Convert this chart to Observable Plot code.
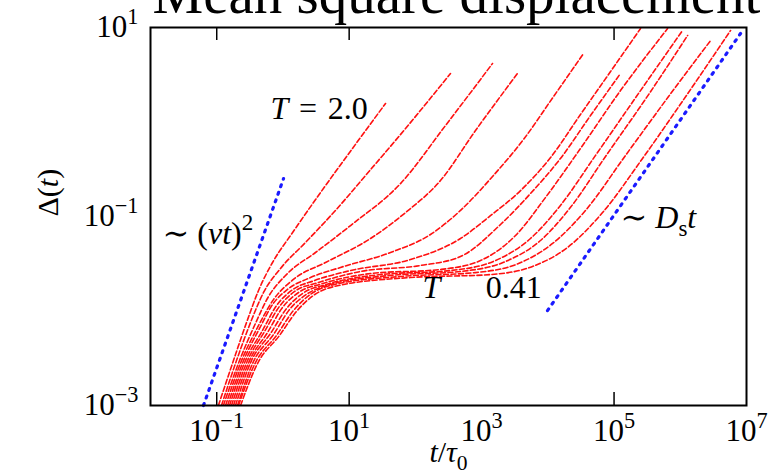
<!DOCTYPE html>
<html><head><meta charset="utf-8">
<script src="https://cdn.jsdelivr.net/npm/d3@7"></script>
<script src="https://cdn.jsdelivr.net/npm/@observablehq/plot@0.6"></script>
<style>body{margin:0;background:#fff} svg{display:block}</style>
</head><body><div id="chart"></div>
<script>
// Mean square displacement curves, T = 2.0 (first) ... T = 0.41 (last)
const seriesNames = ["T1","T2","T3","T4","T5","T6","T7","T8","T9","T10","T11","T12"];
const t1 = [0.106, 0.179, 0.282, 0.428, 0.696, 1.40, 3.69, 11.2, 35.4];
const d1 = [0.001, 0.00299, 0.00755, 0.0165, 0.0326, 0.0677, 0.179, 0.524, 1.57];
const t2 = [0.118, 0.199, 0.324, 0.509, 0.919, 2.19, 6.22, 17.7, 71.0, 339];
const d2 = [0.001, 0.00299, 0.00755, 0.0157, 0.0282, 0.0531, 0.116, 0.272, 0.853, 3.26];
const t3 = [0.126, 0.221, 0.372, 0.605, 1.17, 3.10, 10.5, 59.6, 285, 1460];
const d3v = [0.001, 0.00299, 0.00702, 0.0142, 0.0249, 0.0416, 0.0803, 0.223, 0.918, 4.16];
const t4 = [0.136, 0.237, 0.413, 0.720, 1.44, 4.40, 21.0, 71.0, 239, 809, 3480];
const d4 = [0.001, 0.00299, 0.00669, 0.0132, 0.0216, 0.0326, 0.0585, 0.110, 0.240, 0.813, 3.26];
const t5 = [0.146, 0.254, 0.443, 0.696, 1.17, 2.61, 7.40, 42.1, 169, 480, 1510, 4290, 12200, 34600];
const d5 = [0.001, 0.00299, 0.00653, 0.0117, 0.0169, 0.0226, 0.0289, 0.0416, 0.0645, 0.116, 0.272, 0.653, 1.86, 5.31];
const t6 = [0.156, 0.272, 0.491, 0.799, 1.35, 3.00, 10.5, 84.4, 480, 1360, 3870, 11000, 31100, 88500, 251000];
const d6 = [0.001, 0.00299, 0.00622, 0.0114, 0.0165, 0.0210, 0.0268, 0.0350, 0.0585, 0.102, 0.188, 0.421, 1.20, 3.42, 9.75];
const t7 = [0.167, 0.292, 0.527, 0.887, 1.50, 3.44, 14.8, 119, 480, 1930, 5470, 15500, 44100, 125000];
const d7 = [0.001, 0.00299, 0.00607, 0.0112, 0.0161, 0.0200, 0.0262, 0.0303, 0.0377, 0.0823, 0.175, 0.411, 1.17, 3.26];
const t8 = [0.179, 0.313, 0.585, 0.985, 1.72, 3.96, 21.0, 239, 962, 3250, 9220, 31100, 125000, 643000];
const d8 = [0.001, 0.00299, 0.00592, 0.0109, 0.0157, 0.0195, 0.0249, 0.0275, 0.0342, 0.0629, 0.159, 0.524, 2.15, 9.75];
const t9 = [0.192, 0.335, 0.649, 1.13, 1.97, 4.55, 29.7, 339, 1620, 5470, 15500, 52500, 251000, 1.08e6];
const d9 = [0.001, 0.00299, 0.00578, 0.0106, 0.0153, 0.0191, 0.0243, 0.0268, 0.0342, 0.0585, 0.131, 0.443, 2.15, 9.29];
const t10 = [0.206, 0.359, 0.720, 1.26, 2.27, 5.23, 42.1, 480, 2300, 7740, 22000, 74300, 332000, 1.29e6];
const d10 = [0.001, 0.00292, 0.00564, 0.0104, 0.0150, 0.0191, 0.0238, 0.0262, 0.0334, 0.0557, 0.125, 0.432, 1.95, 8.23];
const t11 = [0.213, 0.385, 0.799, 1.44, 2.61, 6.00, 59.6, 809, 3610, 11800, 37100, 149000, 665000, 2.87e6];
const d11 = [0.001, 0.00285, 0.00551, 0.0101, 0.0150, 0.0191, 0.0232, 0.0255, 0.0318, 0.0518, 0.116, 0.443, 1.86, 7.28];
const t12 = [0.229, 0.413, 0.887, 1.60, 2.89, 6.90, 84.4, 1360, 5870, 19800, 67000, 269000, 1.24e6, 5.74e6];
const d12 = [0.001, 0.00278, 0.00551, 0.00988, 0.0146, 0.0186, 0.0226, 0.0243, 0.0296, 0.0470, 0.110, 0.411, 1.91, 9.29];

// guide lines
const ballisticT = [0.0631, 1.02];
const ballisticD = [0.001, 0.252];
const diffusiveT = [9890, 8.13e6];
const diffusiveD = [0.0101, 8.64];

// axes
const xTickMarks = [1e-1, 1e1, 1e5];
const xTickLabels = [1e-1, 1e1, 1e3, 1e5, 1e7];
const yTickLabels = [1e-3, 1e-1, 1e1];

// annotations: [text, t, msd]
const notes = [
  ["*T*\u2004=\u20042.0", 0.649, 1.39],
  ["∼ (*vt*)^{2}", 0.0152, 0.0661],
  ["*T*", 128, 0.0177],
  ["0.41", 1150, 0.0177],
  ["∼ *D*_{s}*t*", 125000, 0.0976]
];
const titleText = "Mean square displacement";
const xLabel = "*t*/*τ*_{0}";
const yLabel = "Δ(*t*)";

const tArr = [t1,t2,t3,t4,t5,t6,t7,t8,t9,t10,t11,t12];
const dArr = [d1,d2,d3v,d4,d5,d6,d7,d8,d9,d10,d11,d12];
const rows = seriesNames.flatMap((name, i) => tArr[i].map((t, j) => ({series: name, t, msd: dArr[i][j]})));
const ballRows = ballisticT.map((t, i) => ({t, msd: ballisticD[i]}));
const diffRows = diffusiveT.map((t, i) => ({t, msd: diffusiveD[i]}));
const noteRows = notes.map(([text, t, msd]) => ({text, t, msd}));

const expFmt = d => {
  const e = Math.round(Math.log10(d));
  return "10^{" + (e < 0 ? "−" + (-e) : String(e)) + "}";
};

const plot = Plot.plot({
  width: 772, height: 476,
  marginTop: 27, marginRight: 26, marginBottom: 71, marginLeft: 150,
  style: {fontFamily: "'Liberation Serif', 'DejaVu Serif', serif", background: "white", color: "black"},
  x: {type: "log", domain: [1e-2, 1e7]},
  y: {type: "log", domain: [1e-3, 1e1]},
  marks: [
    Plot.line(rows, {x: "t", y: "msd", z: "series", stroke: "#ff1010", strokeWidth: 1.6, strokeDasharray: "5,2.5", curve: "monotone-x", clip: true}),
    Plot.line(ballRows, {x: "t", y: "msd", stroke: "#1a1aff", strokeWidth: 3.2, strokeDasharray: "2,6", strokeLinecap: "round"}),
    Plot.line(diffRows, {x: "t", y: "msd", stroke: "#1a1aff", strokeWidth: 3.2, strokeDasharray: "2,6", strokeLinecap: "round"}),
    Plot.tickX(xTickMarks, {x: d => d, insetTop: 365, stroke: "black", strokeWidth: 1.5}),
    Plot.tickX(xTickMarks, {x: d => d, insetBottom: 365, stroke: "black", strokeWidth: 1.5}),
    Plot.axisX({ticks: xTickLabels, tickSize: 0, tickPadding: 13, tickFormat: expFmt, fontSize: 31, label: null}),
    Plot.axisY({ticks: yTickLabels, tickSize: 0, tickPadding: 12, tickFormat: expFmt, fontSize: 31, label: null}),
    Plot.frame({stroke: "black", strokeWidth: 2}),
    Plot.text(noteRows, {x: "t", y: "msd", text: "text", textAnchor: "start", lineAnchor: "middle", fontSize: 32, fill: "black"}),
    Plot.text([titleText], {text: d => d, frameAnchor: "top-left", dx: 2, dy: -15, textAnchor: "start", lineAnchor: "bottom", fontSize: 57, fill: "black"}),
    Plot.text([xLabel], {text: d => d, frameAnchor: "bottom", dy: 47, lineAnchor: "middle", fontSize: 30, fill: "black"}),
    Plot.text([yLabel], {text: d => d, frameAnchor: "left", dx: -102, rotate: -90, lineAnchor: "middle", fontSize: 30, fill: "black"})
  ]
});
document.getElementById("chart").appendChild(plot);

// tick labels: explicit size
plot.querySelectorAll("text").forEach(el => {
  if (/^10\^\{/.test(el.textContent)) { el.setAttribute("font-size", "31"); el.style.fontSize = "31px"; }
});

// turn *italic*, ^{sup}, _{sub} markup into tspans
const NS = "http://www.w3.org/2000/svg";
plot.querySelectorAll("text").forEach(el => {
  const s = el.textContent;
  if (!/[*^_]/.test(s)) return;
  const fs = parseFloat(getComputedStyle(el).fontSize) || 30;
  el.textContent = "";
  const re = /\*([^*]+)\*|\^\{([^}]*)\}|_\{([^}]*)\}|([^*^_]+)/g;
  let m, shift = 0;
  while ((m = re.exec(s))) {
    const ts = document.createElementNS(NS, "tspan");
    let target = 0, txt, small = false;
    if (m[1] !== undefined) { txt = m[1]; ts.setAttribute("font-style", "italic"); }
    else if (m[2] !== undefined) { txt = m[2]; target = -0.42; small = true; }
    else if (m[3] !== undefined) { txt = m[3]; target = 0.25; small = true; }
    else { txt = m[4]; }
    const dyv = (target - shift) * fs;
    if (dyv) ts.setAttribute("dy", dyv.toFixed(2));
    shift = target;
    if (small) ts.setAttribute("font-size", (fs * 0.72).toFixed(1));
    ts.textContent = txt;
    el.appendChild(ts);
  }
});
</script>
</body></html>
